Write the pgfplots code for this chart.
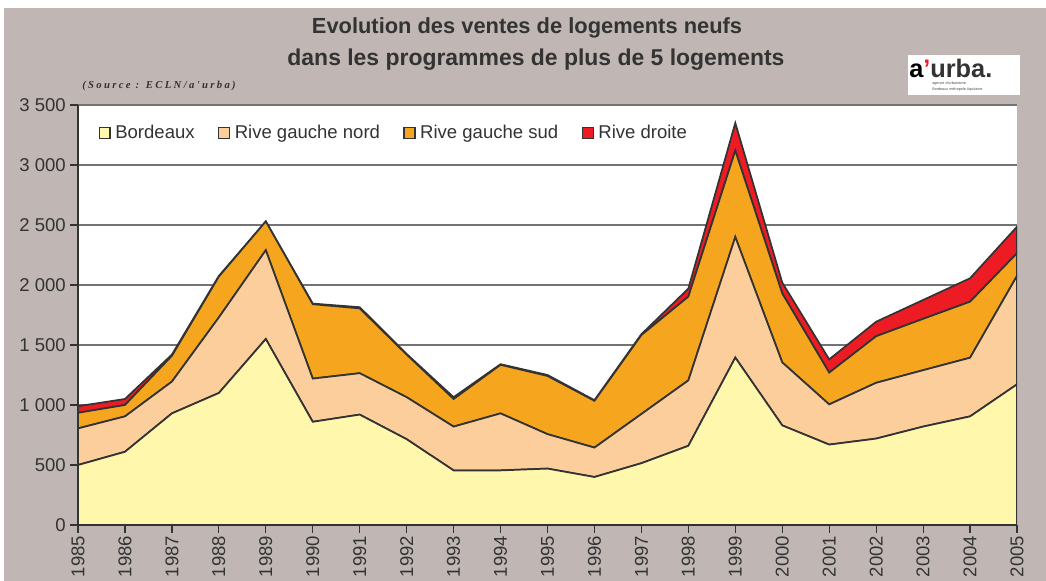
\documentclass[border=0pt]{standalone}
\usepackage{pgfplots}
\pgfplotsset{compat=1.18}
\usepackage{pgfplotstable}
\usepackage{fontspec}
\setmainfont{Liberation Sans}
\newfontfamily\srcfont[LetterSpace=22]{Liberation Serif}
\definecolor{bg}{HTML}{C0B7B4}
\definecolor{cB}{HTML}{FFF7AC}
\definecolor{cN}{HTML}{FCCE9B}
\definecolor{cS}{HTML}{F6A51F}
\definecolor{cR}{HTML}{ED1C24}
\definecolor{lc}{HTML}{333333}
\definecolor{tc}{HTML}{333333}
\pgfplotstableread{
idx B RGN RGS RD
0 500 305 130 55
1 610 295 95 50
2 930 265 215 10
3 1100 630 340 5
4 1550 740 240 0
5 860 360 620 5
6 920 345 540 10
7 715 350 355 5
8 455 365 230 15
9 455 475 405 5
10 470 287 485 8
11 400 245 390 5
12 515 410 658 7
13 660 545 698 67
14 1395 1005 720 230
15 830 525 575 90
16 670 335 265 110
17 720 465 388 121
18 820 470 428 157
19 905 489 467 195
20 1172 904 189 221
}\data
\begin{document}
\begin{tikzpicture}[x=0.75pt,y=0.75pt]
\useasboundingbox (0,0) rectangle (1046,581);
\fill[bg] (4,0) rectangle (1046,573);
% title
\node[font=\bfseries\fontsize{16.4}{18}\selectfont, text=tc] at (527,553) {Evolution des ventes de logements neufs};
\node[font=\bfseries\fontsize{17.2}{19}\selectfont, text=tc] at (536,521) {dans les programmes de plus de 5 logements};
\node[font=\srcfont\bfseries\itshape\fontsize{8}{9}\selectfont, text=tc, anchor=base west, inner sep=0] at (82,492) {(Source : ECLN/a'urba)};
% logo
\fill[white] (908,486) rectangle (1020,526);
\node[anchor=base west, inner sep=0, font=\bfseries\fontsize{19}{20}\selectfont] at (909,503) {a\textcolor{cR}{'}\textcolor{black!80}{urba.}};
\node[anchor=base west, inner sep=0, font=\fontsize{2.8}{3}\selectfont, text=black!70] at (932,496) {agence d'urbanisme};
\node[anchor=base west, inner sep=0, font=\fontsize{2.8}{3}\selectfont, text=black!70] at (932,490) {Bordeaux métropole Aquitaine};
\begin{axis}[
  at={(58.5pt,42pt)}, anchor=south west,
  scale only axis, width=704.25pt, height=315pt,
  xmin=0, xmax=20, ymin=0, ymax=3500,
  enlargelimits=false,
  stack plots=y,
  axis background/.style={fill=white},
  axis x line*=bottom, axis y line*=left,
  axis line style={lc, line width=1.1pt},
  xtick={0,...,20},
  xticklabels={1985,1986,1987,1988,1989,1990,1991,1992,1993,1994,1995,1996,1997,1998,1999,2000,2001,2002,2003,2004,2005},
  ytick={0,500,1000,1500,2000,2500,3000,3500},
  yticklabels={0,500,1 000,1 500,2 000,2 500,3 000,3 500},
  tick align=outside, major tick length=6pt,
  tick style={lc, line width=0.9pt},
  xticklabel style={rotate=90, anchor=east, font=\fontsize{13.9}{16}\selectfont, text=tc, inner sep=2pt},
  yticklabel style={font=\fontsize{13.9}{16}\selectfont, text=tc, inner sep=3pt},
  ymajorgrids, grid style={black!55, line width=0.8pt},
  legend columns=4,
  legend style={at={(0.0173,0.9655)}, anchor=north west, draw=none, fill=none,
    font=\fontsize{13.9}{16}\selectfont, text=tc,
    /tikz/every even column/.append style={column sep=15.5pt}},
  legend cell align=left,
  area legend,
  legend image code/.code={\draw[#1, draw=lc, line width=0.9pt] (0pt,-4.2pt) rectangle (8.2pt,4.2pt); \path (9.5pt,0pt);},
]
\addplot[fill=cB, draw=lc, line width=1.3pt] table[x=idx,y=B]{\data} \closedcycle;
\addplot[fill=cN, draw=lc, line width=1.3pt] table[x=idx,y=RGN]{\data} \closedcycle;
\addplot[fill=cS, draw=lc, line width=1.3pt] table[x=idx,y=RGS]{\data} \closedcycle;
\addplot[fill=cR, draw=lc, line width=1.3pt] table[x=idx,y=RD]{\data} \closedcycle;
\legend{Bordeaux,Rive gauche nord,Rive gauche sud,Rive droite}
\end{axis}
\end{tikzpicture}
\end{document}
